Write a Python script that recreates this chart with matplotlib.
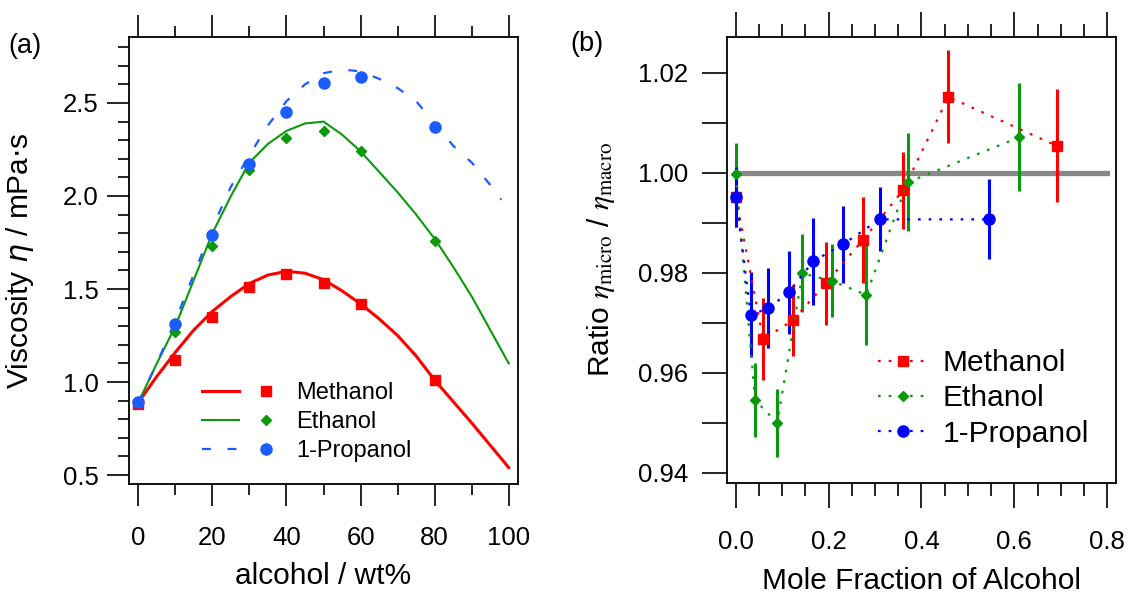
import matplotlib
matplotlib.use('Agg')
import matplotlib.pyplot as plt
from matplotlib.legend_handler import HandlerTuple
from matplotlib.ticker import MultipleLocator

plt.rcParams['font.family'] = ['Liberation Sans', 'DejaVu Sans']

# ---- panel (a): viscosity vs wt% ----
wt = [0, 10, 20, 30, 40, 50, 60, 80]
meth_visc = [0.88, 1.12, 1.35, 1.51, 1.58, 1.53, 1.42, 1.01]
eth_visc = [0.89, 1.27, 1.73, 2.14, 2.31, 2.35, 2.24, 1.76]
prop_visc = [0.89, 1.31, 1.79, 2.17, 2.45, 2.61, 2.64, 2.37]

fit_x = [0, 5, 10, 15, 20, 25, 30, 35, 40, 45, 50, 55, 60, 65, 70, 75, 80, 85, 90, 95, 100]
meth_fit = [0.89, 1.03, 1.16, 1.28, 1.38, 1.46, 1.53, 1.575, 1.595, 1.585, 1.55, 1.49,
            1.42, 1.34, 1.25, 1.14, 1.01, 0.895, 0.78, 0.66, 0.54]
eth_fit = [0.89, 1.10, 1.30, 1.55, 1.80, 2.00, 2.18, 2.28, 2.35, 2.39, 2.40, 2.33,
           2.24, 2.13, 2.02, 1.90, 1.77, 1.62, 1.46, 1.28, 1.10]
prop_fit_x = [0, 5, 10, 15, 20, 25, 30, 35, 40, 45, 50, 55, 60, 65, 70, 75, 80, 85, 90, 95, 98]
prop_fit = [0.89, 1.10, 1.33, 1.58, 1.83, 2.05, 2.22, 2.38, 2.51, 2.60, 2.66, 2.68,
            2.67, 2.63, 2.58, 2.51, 2.39, 2.27, 2.18, 2.06, 1.98]

# ---- panel (b): ratio vs mole fraction ----
meth_x = [0.0, 0.0588, 0.123, 0.194, 0.273, 0.360, 0.458, 0.692]
meth_r = [0.9952, 0.9667, 0.9705, 0.9779, 0.9865, 0.9965, 1.0152, 1.0054]
meth_e = [0.006, 0.0082, 0.0071, 0.0083, 0.0086, 0.0077, 0.0093, 0.0113]

eth_x = [0.0, 0.0416, 0.0891, 0.1436, 0.2068, 0.281, 0.370, 0.610]
eth_r = [0.9997, 0.9545, 0.9500, 0.9799, 0.9784, 0.9756, 0.9981, 1.0071]
eth_e = [0.0063, 0.0074, 0.0068, 0.0078, 0.0073, 0.0100, 0.0098, 0.0108]

prop_x = [0.0, 0.0322, 0.0698, 0.1139, 0.1666, 0.2307, 0.310, 0.545]
prop_r = [0.9952, 0.9716, 0.9729, 0.9761, 0.9823, 0.9857, 0.9907, 0.9907]
prop_e = [0.006, 0.0085, 0.008, 0.0083, 0.0087, 0.0077, 0.0064, 0.008]

red = '#ff0000'
green = '#0a990a'
blue_a = '#1a5cff'
blue_b = '#0000ff'

fig = plt.figure(figsize=(11.31, 5.96), dpi=100)
ax1 = fig.add_axes([0.1141, 0.188, 0.3439, 0.750])
ax2 = fig.add_axes([0.6428, 0.190, 0.3439, 0.748])

# panel a
l1, = ax1.plot(fit_x, meth_fit, color=red, lw=2.2)
l2, = ax1.plot(fit_x, eth_fit, color=green, lw=1.5)
l3, = ax1.plot(prop_fit_x, prop_fit, color=blue_a, lw=1.6, linestyle=(0, (4, 7.5)))
m1, = ax1.plot(wt, meth_visc, 's', color=red, ms=7.5, ls='none')
m2, = ax1.plot(wt, eth_visc, 'D', color=green, ms=5.5, ls='none')
m3, = ax1.plot(wt, prop_visc, 'o', color=blue_a, ms=8, ls='none')

ax1.set_xlim(-2.5, 102.5)
ax1.set_ylim(0.452, 2.855)
ax1.xaxis.set_major_locator(MultipleLocator(20))
ax1.xaxis.set_minor_locator(MultipleLocator(10))
ax1.yaxis.set_major_locator(MultipleLocator(0.5))
ax1.yaxis.set_minor_locator(MultipleLocator(0.1))
ax1.tick_params(which='both', direction='out', top=True, right=False, width=1.2)
ax1.tick_params(which='major', length=16, labelsize=18.5)
ax1.tick_params(which='minor', length=8)
ax1.tick_params(axis='x', which='major', pad=14)
ax1.tick_params(axis='y', which='major', pad=6)
ax1.set_xlabel('alcohol / wt%', fontsize=21.5)
ax1.set_ylabel(r'Viscosity $\eta$ / mPa$\cdot$s', fontsize=21.5)
ax1.yaxis.label.set_math_fontfamily('dejavusans')
ax1.xaxis.set_label_coords(0.5, -0.175)
ax1.yaxis.set_label_coords(-0.24, 0.5)
for s in ax1.spines.values():
    s.set_linewidth(1.3)

ax1.legend([(l1, m1), (l2, m2), (l3, m3)], ['Methanol', 'Ethanol', '1-Propanol'],
           handler_map={tuple: HandlerTuple(ndivide=None, pad=0.36)},
           loc='upper left', bbox_to_anchor=(0.188, 0.228), frameon=False,
           fontsize=17, handlelength=3.5, handletextpad=0.5,
           labelspacing=0.3, borderpad=0, borderaxespad=0)

# panel b
ax2.plot([0, 0.8], [1.0, 1.0], color='#888888', lw=3.8, zorder=1)
dots = (0, (1.2, 3.6))
ax2.errorbar(meth_x, meth_r, yerr=meth_e, fmt='none', ecolor=red, elinewidth=2.2, capsize=0)
ax2.errorbar(eth_x, eth_r, yerr=eth_e, fmt='none', ecolor=green, elinewidth=2.2, capsize=0)
ax2.errorbar(prop_x, prop_r, yerr=prop_e, fmt='none', ecolor=blue_b, elinewidth=2.2, capsize=0)
h1, = ax2.plot(meth_x, meth_r, color=red, ls=dots, lw=1.6, marker='s', ms=7.5, label='Methanol')
h2, = ax2.plot(eth_x, eth_r, color=green, ls=dots, lw=1.6, marker='D', ms=5.5, label='Ethanol')
h3, = ax2.plot(prop_x, prop_r, color=blue_b, ls=dots, lw=1.6, marker='o', ms=8, label='1-Propanol')

ax2.set_xlim(-0.019, 0.819)
ax2.set_ylim(0.938, 1.0272)
ax2.xaxis.set_major_locator(MultipleLocator(0.2))
ax2.xaxis.set_minor_locator(MultipleLocator(0.05))
ax2.yaxis.set_major_locator(MultipleLocator(0.02))
ax2.yaxis.set_minor_locator(MultipleLocator(0.01))
ax2.xaxis.set_major_formatter(lambda v, p: f'{v:.1f}')
ax2.yaxis.set_major_formatter(lambda v, p: f'{v:.2f}')
ax2.tick_params(which='both', direction='out', top=True, right=False, width=1.2)
ax2.tick_params(which='major', length=18, labelsize=18.5)
ax2.tick_params(axis='x', which='minor', length=9.5)
ax2.tick_params(axis='y', which='minor', length=18)
ax2.tick_params(axis='x', which='major', pad=16)
ax2.tick_params(axis='y', which='major', pad=10)
ax2.set_xlabel('Mole Fraction of Alcohol', fontsize=21.5)
ax2.set_ylabel(r'Ratio $\eta_{\rm micro}$ / $\eta_{\rm macro}$', fontsize=21.5)
ax2.yaxis.label.set_math_fontfamily('stix')
ax2.xaxis.set_label_coords(0.5, -0.19)
ax2.yaxis.set_label_coords(-0.283, 0.5)
for s in ax2.spines.values():
    s.set_linewidth(1.3)

ax2.legend(handles=[h1, h2, h3], loc='upper left', bbox_to_anchor=(0.388, 0.30),
           frameon=False, fontsize=21.5, handlelength=1.67, handletextpad=0.5,
           labelspacing=0.25, borderpad=0, borderaxespad=0)

fig.text(8 / 1131, 1 - 33 / 596, '(a)', fontsize=19.5, va='top')
fig.text(570 / 1131, 1 - 31 / 596, '(b)', fontsize=19.5, va='top')

fig.savefig('out.png', dpi=100)
